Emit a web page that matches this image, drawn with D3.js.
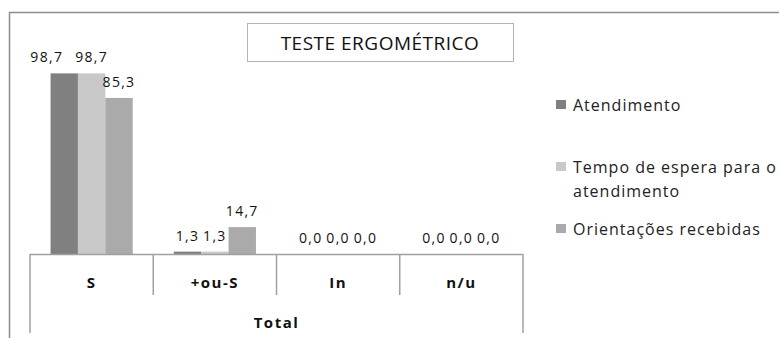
<!DOCTYPE html>
<html>
<head>
<meta charset="utf-8">
<script src="https://cdn.jsdelivr.net/npm/d3@7"></script>
<style>
    body { margin: 0; background: #fff; }
    svg { display: block; font-family: 'Open Sans', sans-serif; }
</style>
</head>
<body>
<div id="chart"></div>
<script>
// chart data
var categories = ['S', '+ou-S', 'In', 'n/u'];
var groupLabel = 'Total';
var seriesNames = ['Atendimento', 'Tempo de espera para o atendimento', 'Orientações recebidas'];
var atendimento = [98.7, 1.3, 0.0, 0.0];
var tempoEspera = [98.7, 1.3, 0.0, 0.0];
var orientacoes = [85.3, 14.7, 0.0, 0.0];
var seriesColors = ['#808080', '#c8c8c8', '#aaaaaa'];
var title = 'TESTE ERGOMÉTRICO';

var width = 779;
var height = 338;
var fmt = function (v) { return v.toFixed(1).replace('.', ','); };

var svg = d3.select('#chart').append('svg')
    .attr('width', width)
    .attr('height', height);

// outer chart frame (only top and left edge visible)
svg.append('path')
    .attr('d', 'M9.5,338 V12.5 H779')
    .attr('fill', 'none')
    .attr('stroke', '#8c8c8c')
    .attr('stroke-width', 1.5);

var x0 = d3.scaleBand().domain(categories).range([30, 523]);
var x1 = d3.scaleBand().domain(seriesNames).range([0, x0.bandwidth()]).paddingOuter(0.75);
var y = d3.scaleLinear().domain([0, 100]).range([254, 71]);

var values = [atendimento, tempoEspera, orientacoes];
var rows = categories.map(function (c, i) {
    return { cat: c, bars: seriesNames.map(function (s, j) { return { name: s, value: values[j][i], color: seriesColors[j] }; }) };
});

var groups = svg.selectAll('g.cat')
    .data(rows)
    .enter()
    .append('g')
    .attr('class', 'cat')
    .attr('transform', function (d) { return 'translate(' + x0(d.cat) + ',0)'; });

groups.selectAll('rect')
    .data(function (d) { return d.bars; })
    .enter()
    .append('rect')
    .attr('x', function (d) { return x1(d.name); })
    .attr('width', x1.bandwidth())
    .attr('y', function (d) { return y(d.value); })
    .attr('height', function (d) { return y(0) - y(d.value); })
    .attr('fill', function (d) { return d.color; });

// data labels, nudged left when they would overlap the next one
groups.each(function (d) {
    var g = d3.select(this);
    var labels = d.bars.map(function (b) {
        return { text: fmt(b.value), x: x1(b.name) + x1.bandwidth() / 2, y: y(b.value) - 11 };
    });
    var nodes = g.selectAll('text.lbl')
        .data(labels)
        .enter()
        .append('text')
        .attr('class', 'lbl')
        .attr('x', function (l) { return l.x; })
        .attr('y', function (l) { return l.y; })
        .attr('text-anchor', 'middle')
        .attr('font-size', 14)
        .attr('letter-spacing', 1.3)
        .attr('fill', '#111')
        .text(function (l) { return l.text; })
        .nodes();
    for (var i = labels.length - 2; i >= 0; i--) {
        var a = nodes[i].getBBox(), b = nodes[i + 1].getBBox();
        var sameRow = Math.abs(labels[i].y - labels[i + 1].y) < 14;
        if (sameRow && a.x + a.width + 12 > b.x && labels[i].y < 100) {
            labels[i].x -= (a.x + a.width + 12 - b.x);
            d3.select(nodes[i]).attr('x', labels[i].x);
        }
    }
});

// category axis with two levels
var axisColor = '#a0a0a0';
svg.append('line')
    .attr('x1', x0.range()[0]).attr('x2', x0.range()[1])
    .attr('y1', y(0) + 0.5).attr('y2', y(0) + 0.5)
    .attr('stroke', axisColor).attr('stroke-width', 1.5);

var edges = categories.map(function (c) { return x0(c); }).concat([x0.range()[1]]);
svg.selectAll('line.tick')
    .data(edges)
    .enter()
    .append('line')
    .attr('class', 'tick')
    .attr('x1', function (d) { return d; }).attr('x2', function (d) { return d; })
    .attr('y1', y(0))
    .attr('y2', function (d, i) { return (i === 0 || i === edges.length - 1) ? 333 : 295; })
    .attr('stroke', axisColor).attr('stroke-width', 1.5);

svg.selectAll('text.cat')
    .data(categories)
    .enter()
    .append('text')
    .attr('class', 'cat')
    .attr('x', function (d) { return x0(d) + x0.bandwidth() / 2; })
    .attr('y', 288)
    .attr('text-anchor', 'middle')
    .attr('font-size', 15)
    .attr('font-weight', 'bold')
    .attr('letter-spacing', 1.5)
    .attr('fill', '#111')
    .text(function (d) { return d; });

svg.append('text')
    .attr('x', (x0.range()[0] + x0.range()[1]) / 2)
    .attr('y', 328)
    .attr('text-anchor', 'middle')
    .attr('font-size', 15)
    .attr('font-weight', 'bold')
    .attr('letter-spacing', 1.5)
    .attr('fill', '#111')
    .text(groupLabel);

// title box
svg.append('rect')
    .attr('x', 247.5).attr('y', 23.5)
    .attr('width', 266).attr('height', 38)
    .attr('fill', '#fff')
    .attr('stroke', '#b4b4b4');
svg.append('text')
    .attr('x', 380).attr('y', 50)
    .attr('text-anchor', 'middle')
    .attr('font-size', 19)
    .attr('letter-spacing', 0.5)
    .attr('fill', '#111')
    .text(title);

// legend
var legendLines = [['Atendimento'], ['Tempo de espera para o', 'atendimento'], ['Orientações recebidas']];
var legendY = [105, 167, 229];
var legend = svg.selectAll('g.legend')
    .data(seriesNames)
    .enter()
    .append('g')
    .attr('class', 'legend')
    .attr('transform', function (d, i) { return 'translate(556,' + legendY[i] + ')'; });
legend.append('rect')
    .attr('x', 0).attr('y', -5)
    .attr('width', 10).attr('height', 9)
    .attr('fill', function (d, i) { return seriesColors[i]; });
legend.each(function (d, i) {
    var t = d3.select(this).append('text')
        .attr('font-size', 16)
        .attr('letter-spacing', 1)
        .attr('fill', '#222');
    legendLines[i].forEach(function (line, k) {
        t.append('tspan')
            .attr('x', 17)
            .attr('y', 6 + k * 24)
            .text(line);
    });
});
</script>
</body>
</html>
